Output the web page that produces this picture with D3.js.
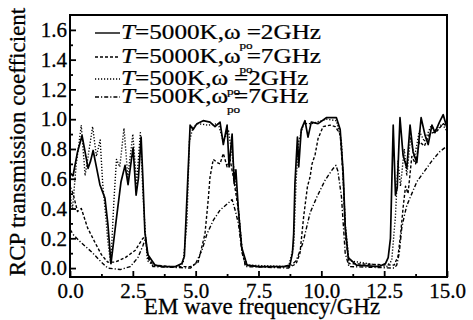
<!DOCTYPE html>
<html>
<head>
<meta charset="utf-8">
<script src="https://cdn.jsdelivr.net/npm/d3@7"></script>
<style>
  html, body { margin: 0; padding: 0; background: #fff; }
  svg { display: block; font-family: "Liberation Serif", "DejaVu Serif", serif; }
</style>
</head>
<body>
<div id="chart"></div>
<script>
// frequency (GHz), RCP transmission coefficient
const solid5000k2 = [
  [0, 0.64], [0.12, 0.62], [0.3, 0.78], [0.48, 0.89], [0.6, 0.78], [0.72, 0.67], [0.82, 0.72],
  [0.92, 0.79], [1.05, 0.68], [1.19, 0.56], [1.39, 0.47], [1.51, 0.29], [1.63, 0.03], [1.83, 0.31],
  [2.03, 0.58], [2.19, 0.69], [2.31, 0.56], [2.51, 0.81], [2.63, 0.49], [2.72, 0.6], [2.83, 0.88],
  [2.9, 0.6], [2.98, 0.24], [3.1, 0.09], [3.38, 0.02], [3.7, 0.01], [4.2, 0.01], [4.45, 0.03],
  [4.55, 0.08], [4.65, 0.46], [4.78, 0.96], [4.9, 0.93], [5.05, 0.97], [5.3, 0.99], [5.57, 0.98],
  [5.77, 0.95], [5.97, 0.98], [6.1, 0.83], [6.25, 0.96], [6.33, 0.68], [6.45, 0.9], [6.53, 0.57],
  [6.6, 0.66], [6.7, 0.39], [6.83, 0.14], [7.04, 0.02], [7.5, 0.01], [8.5, 0.01], [8.75, 0.02],
  [8.85, 0.1], [8.9, 0.23], [8.95, 0.57], [9.05, 0.88], [9.1, 0.68], [9.2, 0.93], [9.35, 0.99],
  [9.47, 0.88], [9.6, 0.98], [9.87, 0.97], [10.2, 1.01], [10.6, 1.01], [10.75, 0.93], [10.87, 0.64],
  [10.95, 0.28], [11.07, 0.07], [11.4, 0.02], [12.3, 0.01], [12.55, 0.03], [12.66, 0.07],
  [12.75, 0.2], [12.86, 0.96], [12.95, 0.49], [13.02, 0.54], [13.13, 1.01], [13.25, 0.76],
  [13.4, 0.67], [13.53, 0.96], [13.65, 0.78], [13.8, 0.71], [13.97, 1.01], [14.13, 0.89],
  [14.25, 0.83], [14.4, 0.96], [14.52, 0.91], [14.7, 0.98], [14.85, 1.03], [15, 0.94]
];
const dashed5000k7 = [
  [0, 0.55], [0.12, 0.5], [0.3, 0.38], [0.45, 0.4], [0.7, 0.27], [1.0, 0.17], [1.25, 0.09],
  [1.5, 0.04], [1.8, 0.04], [2.2, 0.07], [2.6, 0.12], [2.9, 0.2], [3.0, 0.21], [3.1, 0.08],
  [3.3, 0.02], [4.0, 0.01], [4.8, 0.01], [5.1, 0.04], [5.37, 0.23], [5.5, 0.46], [5.57, 0.61],
  [5.7, 0.73], [5.85, 0.71], [5.97, 0.7], [6.1, 0.77], [6.25, 0.68], [6.37, 0.73], [6.5, 0.61],
  [6.7, 0.39], [6.84, 0.12], [6.97, 0.02], [7.5, 0.01], [8.8, 0.01], [9.0, 0.03], [9.15, 0.1],
  [9.3, 0.35], [9.45, 0.55], [9.55, 0.61], [9.63, 0.7], [9.75, 0.76], [9.87, 0.87], [10.07, 0.95],
  [10.35, 0.96], [10.55, 0.95], [10.75, 0.9], [10.87, 0.6], [10.97, 0.2], [11.1, 0.03],
  [12.9, 0.02], [13.05, 0.08], [13.15, 0.22], [13.25, 0.4], [13.35, 0.55], [13.45, 0.5],
  [13.6, 0.75], [13.75, 0.7], [13.9, 0.85], [14.1, 0.82], [14.3, 0.9], [14.6, 0.92],
  [14.85, 0.97], [15, 0.95]
];
const dotted500k2 = [
  [0, 0.5], [0.1, 0.4], [0.25, 0.7], [0.45, 0.96], [0.6, 0.62], [0.72, 0.75], [0.9, 0.95],
  [1.05, 0.75], [1.2, 0.86], [1.3, 0.57], [1.4, 0.39], [1.5, 0.19], [1.62, 0.03], [1.75, 0.46],
  [1.85, 0.73], [1.98, 0.68], [2.15, 0.94], [2.3, 0.61], [2.5, 0.9], [2.65, 0.57], [2.8, 0.91],
  [2.9, 0.5], [3.0, 0.23], [3.08, 0.05], [3.3, 0.02], [3.7, 0.01], [4.2, 0.01], [4.5, 0.03],
  [4.65, 0.3], [4.75, 0.85], [4.9, 0.95], [5.1, 0.97], [5.5, 0.96], [5.9, 0.97], [6.1, 0.85],
  [6.3, 0.93], [6.5, 0.7], [6.7, 0.4], [6.85, 0.12], [7.05, 0.02], [8.7, 0.01], [8.9, 0.15],
  [9.0, 0.6], [9.1, 0.85], [9.3, 0.97], [9.6, 0.97], [10.2, 1.0], [10.6, 0.99], [10.8, 0.85],
  [10.95, 0.3], [11.1, 0.05], [12.6, 0.01], [12.8, 0.05], [12.95, 0.35], [13.05, 0.72],
  [13.15, 0.55], [13.3, 0.8], [13.4, 0.62], [13.55, 0.88], [13.7, 0.74], [13.9, 0.92],
  [14.1, 0.85], [14.35, 0.95], [14.6, 0.92], [14.8, 0.97], [15, 0.92]
];
const dashdot500k7 = [
  [0, 0.26], [0.15, 0.22], [0.45, 0.17], [0.85, 0.11], [1.25, 0.04], [1.5, 0.0], [2.0, -0.01],
  [2.4, 0.01], [2.7, 0.07], [2.9, 0.15], [3.0, 0.2], [3.1, 0.07], [3.3, 0.01], [4.8, 0.0],
  [5.0, 0.03], [5.25, 0.12], [5.45, 0.23], [5.7, 0.32], [5.97, 0.39], [6.25, 0.43], [6.45, 0.46],
  [6.57, 0.39], [6.7, 0.3], [6.85, 0.1], [7.0, 0.01], [8.7, 0.0], [9.0, 0.05], [9.27, 0.17],
  [9.55, 0.37], [9.83, 0.48], [10.15, 0.59], [10.43, 0.66], [10.58, 0.69], [10.66, 0.65],
  [10.8, 0.48], [10.95, 0.1], [11.1, 0.01], [12.9, 0.0], [13.0, 0.02], [13.1, 0.1], [13.2, 0.27],
  [13.3, 0.35], [13.4, 0.42], [13.6, 0.5], [13.8, 0.58], [14.1, 0.65], [14.4, 0.72],
  [14.7, 0.78], [15, 0.82]
];

const seriesNames = ["5000K", "5000K", "500K", "500K"];
const seriesFreqs = ["2GHz", "7GHz", "2GHz", "7GHz"];
const xTicks = [0, 2.5, 5, 7.5, 10, 12.5, 15];
const yTicks = [0, 0.2, 0.4, 0.6, 0.8, 1.0, 1.2, 1.4, 1.6];

const width = 473, height = 320;
const svg = d3.select("#chart").append("svg").attr("width", width).attr("height", height);

const x = d3.scaleLinear().domain([0, 15]).range([70, 447]);
const y = d3.scaleLinear().domain([-0.06, 1.7]).range([277, 15]);

// clip for curves
svg.append("clipPath").attr("id", "plot")
  .append("rect").attr("x", 70).attr("y", 15).attr("width", 377).attr("height", 262);

const series = [
  { data: solid5000k2, dash: null, w: 1.7 },
  { data: dashed5000k7, dash: "3,2", w: 1.4 },
  { data: dotted500k2, dash: "1.2,1.8", w: 1.4 },
  { data: dashdot500k7, dash: "4,2,1.2,2", w: 1.4 }
];

const line = d3.line().x(d => x(d[0])).y(d => y(d[1]));

const g = svg.append("g").attr("clip-path", "url(#plot)");
series.forEach(s => {
  g.append("path")
    .attr("d", line(s.data))
    .attr("fill", "none")
    .attr("stroke", "#000")
    .attr("stroke-width", s.w)
    .attr("stroke-linejoin", "round")
    .attr("stroke-dasharray", s.dash);
});

// axes (inward ticks)
const xAxis = svg.append("g").attr("transform", "translate(0,277)")
  .call(d3.axisBottom(x).tickValues(xTicks).tickSize(-6).tickPadding(6).tickFormat(d3.format(".1f")));
const xMinor = svg.append("g").attr("transform", "translate(0,277)")
  .call(d3.axisBottom(x).tickValues(d3.range(1.25, 15, 2.5)).tickSize(-3).tickFormat(""));
const yAxis = svg.append("g").attr("transform", "translate(70,0)")
  .call(d3.axisLeft(y).tickValues(yTicks).tickSize(-6).tickPadding(3).tickFormat(d3.format(".1f")));
const yMinor = svg.append("g").attr("transform", "translate(70,0)")
  .call(d3.axisLeft(y).tickValues(d3.range(0.1, 1.7, 0.2)).tickSize(-3).tickFormat(""));

[xAxis, xMinor, yAxis, yMinor].forEach(a => {
  a.select(".domain").remove();
  a.selectAll("line").attr("stroke", "#000").attr("stroke-width", 1.8);
  a.selectAll("text").attr("fill", "#000").attr("font-size", 21)
    .attr("font-family", "Liberation Serif, serif")
    .attr("stroke", "#000").attr("stroke-width", 0.3);
});

// frame
svg.append("rect").attr("x", 70).attr("y", 15).attr("width", 377).attr("height", 262)
  .attr("fill", "none").attr("stroke", "#000").attr("stroke-width", 2);

// axis titles
svg.append("text").attr("x", 262).attr("y", 314).attr("text-anchor", "middle")
  .attr("font-size", 23).attr("stroke", "#000").attr("stroke-width", 0.3)
  .text("EM wave frequency/GHz");
svg.append("text").attr("transform", "translate(25,142) rotate(-90)").attr("text-anchor", "middle")
  .attr("font-size", 23).attr("stroke", "#000").attr("stroke-width", 0.3)
  .text("RCP transmission coefficient");

// legend
const legY = [33, 57, 79, 97];
series.forEach((s, i) => {
  svg.append("line").attr("x1", 95).attr("x2", 120).attr("y1", legY[i]).attr("y2", legY[i])
    .attr("stroke", "#000").attr("stroke-width", 1.4).attr("stroke-dasharray", s.dash);
  const t = svg.append("g")
    .attr("transform", `translate(121,${legY[i] + 6}) scale(1.2,1)`)
    .append("text").attr("font-size", 21).attr("stroke", "#000").attr("stroke-width", 0.25);
  t.append("tspan").attr("font-style", "italic").text("T");
  t.append("tspan").text("=" + seriesNames[i] + ",\u03c9");
  t.append("tspan").attr("font-size", 11).attr("dy", 10).attr("dx", -1).text("po");
  t.append("tspan").attr("dy", -10).attr("dx", -5).text("=" + seriesFreqs[i]);
});
</script>
</body>
</html>
